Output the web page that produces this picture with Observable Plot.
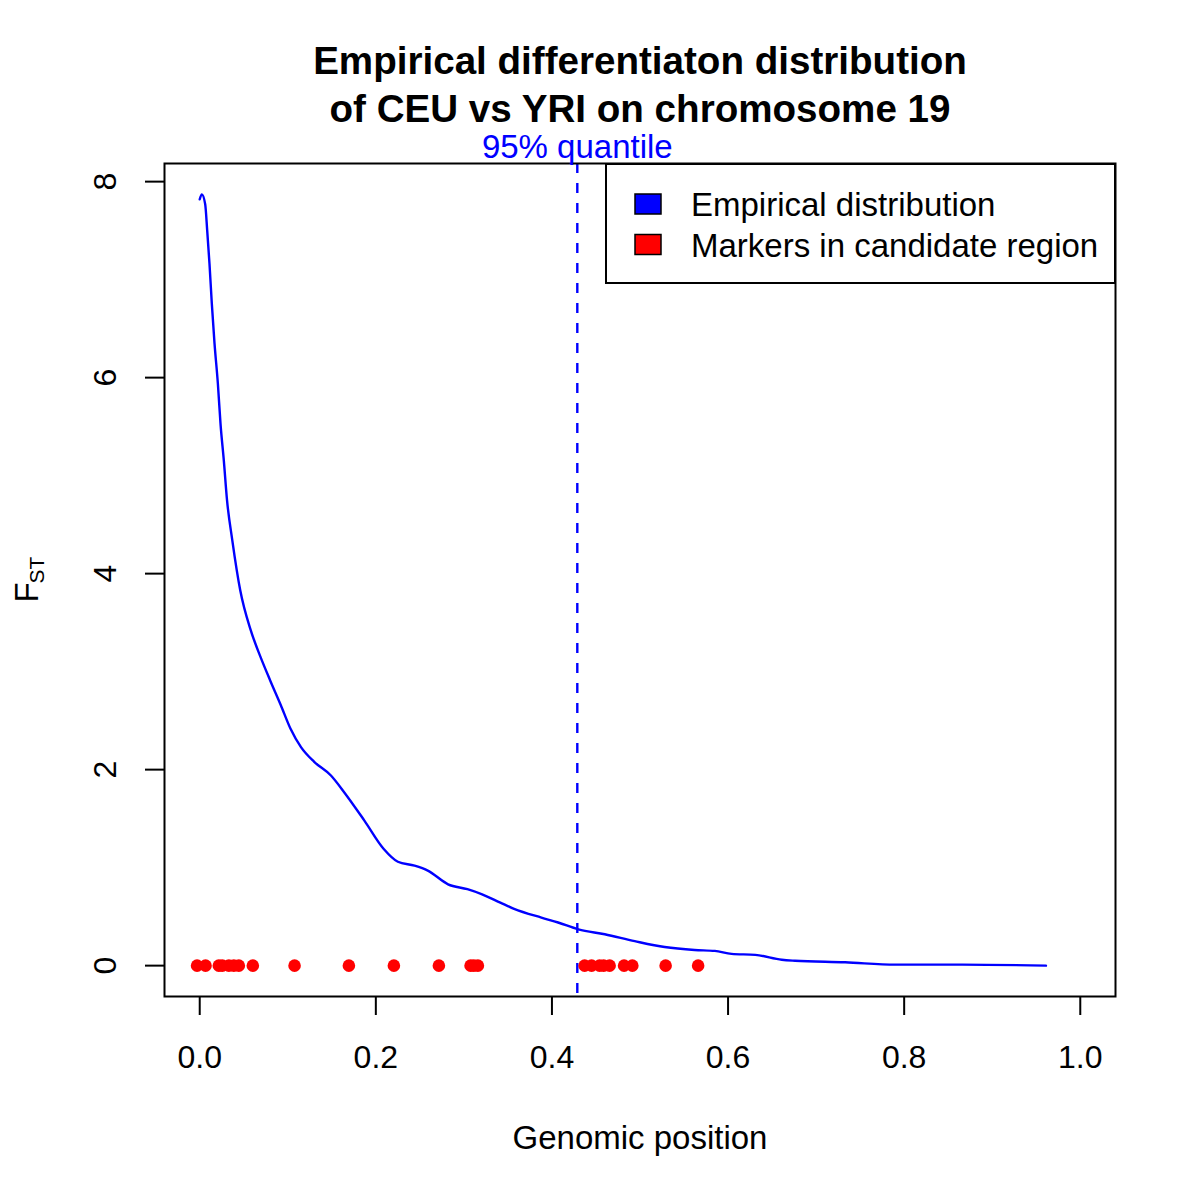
<!DOCTYPE html>
<html>
<head>
<meta charset="utf-8">
<script src="https://cdn.jsdelivr.net/npm/d3@7"></script>
<script src="https://cdn.jsdelivr.net/npm/@observablehq/plot@0.6"></script>
<style>
  html, body { margin: 0; padding: 0; background: #fff; }
  #chart svg { display: block; font-family: "Liberation Sans", Arial, Helvetica, sans-serif; }
</style>
</head>
<body>
<div id="chart"></div>
<script>
// Empirical distribution curve (genomic position, F_ST)
const curveX = [0.000, 0.0024, 0.0062, 0.0085, 0.0111, 0.0137, 0.0168, 0.0206, 0.0236, 0.0274,
  0.031, 0.037, 0.046, 0.058, 0.069, 0.080, 0.092, 0.103, 0.115, 0.130,
  0.149, 0.164, 0.187, 0.209, 0.225, 0.244, 0.259, 0.282, 0.304, 0.320,
  0.342, 0.357, 0.388, 0.407, 0.430, 0.460, 0.494, 0.528, 0.562, 0.585,
  0.604, 0.631, 0.661, 0.676, 0.733, 0.790, 0.866, 0.961];
const curveY = [7.82, 7.87, 7.77, 7.50, 7.16, 6.76, 6.35, 5.94, 5.53, 5.15,
  4.75, 4.34, 3.83, 3.42, 3.15, 2.91, 2.66, 2.42, 2.23, 2.08,
  1.94, 1.77, 1.48, 1.19, 1.06, 1.02, 0.97, 0.83, 0.78, 0.73,
  0.64, 0.58, 0.49, 0.44, 0.37, 0.32, 0.25, 0.19, 0.16, 0.15,
  0.12, 0.11, 0.06, 0.05, 0.034, 0.01, 0.01, 0.0];

// Markers in candidate region (plotted at F_ST = 0)
const markerX = [-0.003, 0.0066, 0.0217, 0.0256, 0.0331, 0.0387, 0.0444, 0.0603, 0.1077, 0.1694,
  0.2205, 0.2716, 0.3076, 0.3113, 0.3159, 0.4371, 0.4450, 0.4541, 0.4587, 0.4655,
  0.4819, 0.4913, 0.5291, 0.5660];
const markerY = markerX.map(() => 0);

const quantile95 = 0.4288;

const xTicks = [0, 0.2, 0.4, 0.6, 0.8, 1.0];
const yTicks = [0, 2, 4, 6, 8];

const titleLines = ["Empirical differentiaton distribution", "of CEU vs YRI on chromosome 19"];
const xLabel = "Genomic position";
const quantileLabel = "95% quantile";
const legendLabels = ["Empirical distribution", "Markers in candidate region"];
const legendColors = ["#0000FF", "#FF0000"];

const curve = curveX.map((x, i) => ({x, y: curveY[i]}));
const markers = markerX.map((x, i) => ({x, y: markerY[i]}));

const FONT = "Liberation Sans, Arial, Helvetica, sans-serif";

const chart = Plot.plot({
  width: 1200,
  height: 1200,
  marginLeft: 164,
  marginRight: 85,
  marginTop: 163,
  marginBottom: 204,
  style: {fontFamily: FONT, fontSize: "32px", background: "#fff", color: "#000"},
  x: {domain: [-0.04, 1.04]},
  y: {domain: [-0.315, 8.185]},
  marks: [
    Plot.lineY(curve, {x: "x", y: "y", stroke: "#0000FF", strokeWidth: 2.4, curve: "monotone-x"}),
    Plot.ruleX([quantile95], {stroke: "#0000FF", strokeWidth: 2.4, strokeDasharray: "10,10"}),
    Plot.dot(markers, {x: "x", y: "y", r: 6.3, fill: "#FF0000", stroke: null}),
    Plot.frame({stroke: "#000", strokeWidth: 2}),
    Plot.axisX(xTicks, {tickSize: 19, tickPadding: 30, strokeWidth: 2, fontSize: 32,
      tickFormat: d3.format(".1f"), label: null}),
    Plot.axisY(yTicks, {tickSize: 19, strokeWidth: 2, tickFormat: () => "", label: null}),
    Plot.text(yTicks, {y: d => d, text: d => String(d), frameAnchor: "left", dx: -49,
      rotate: -90, textAnchor: "middle", lineAnchor: "bottom", fontSize: 32, fill: "#000"}),
    Plot.text([titleLines[0]], {frameAnchor: "top", dy: -90, lineAnchor: "bottom",
      fontSize: 38.6, fontWeight: "bold", fill: "#000"}),
    Plot.text([titleLines[1]], {frameAnchor: "top", dy: -42, lineAnchor: "bottom",
      fontSize: 38.6, fontWeight: "bold", fill: "#000"}),
    Plot.text([quantileLabel], {x: () => quantile95, frameAnchor: "top", dy: -6, lineAnchor: "bottom",
      fontSize: 33, fill: "#0000FF"}),
    Plot.text([xLabel], {frameAnchor: "bottom", dy: 152, lineAnchor: "bottom", fontSize: 33, fill: "#000"}),
    Plot.text(["F"], {frameAnchor: "left", dx: -127, dy: 22.5, rotate: -90, textAnchor: "start",
      lineAnchor: "bottom", fontSize: 33, fill: "#000"}),
    Plot.text(["ST"], {frameAnchor: "left", dx: -121, dy: 3.5, rotate: -90, textAnchor: "start",
      lineAnchor: "bottom", fontSize: 21, fill: "#000"})
  ]
});

document.getElementById("chart").appendChild(chart);

// Legend (R-style box in the top-right corner of the plot region)
const svg = d3.select(chart);
const lg = svg.append("g").attr("font-family", FONT).attr("font-size", 33).attr("text-anchor", "start");
lg.append("rect").attr("x", 606).attr("y", 164).attr("width", 509).attr("height", 119)
  .attr("fill", "#fff").attr("stroke", "#000").attr("stroke-width", 2);
legendLabels.forEach((label, i) => {
  const top = 194 + i * 40.5;
  lg.append("rect").attr("x", 635).attr("y", top).attr("width", 26).attr("height", 20)
    .attr("fill", legendColors[i]).attr("stroke", "#000").attr("stroke-width", 1.5);
  lg.append("text").attr("x", 691).attr("y", top + 22).attr("fill", "#000")
    .attr("text-anchor", "start").text(label);
});
</script>
</body>
</html>
